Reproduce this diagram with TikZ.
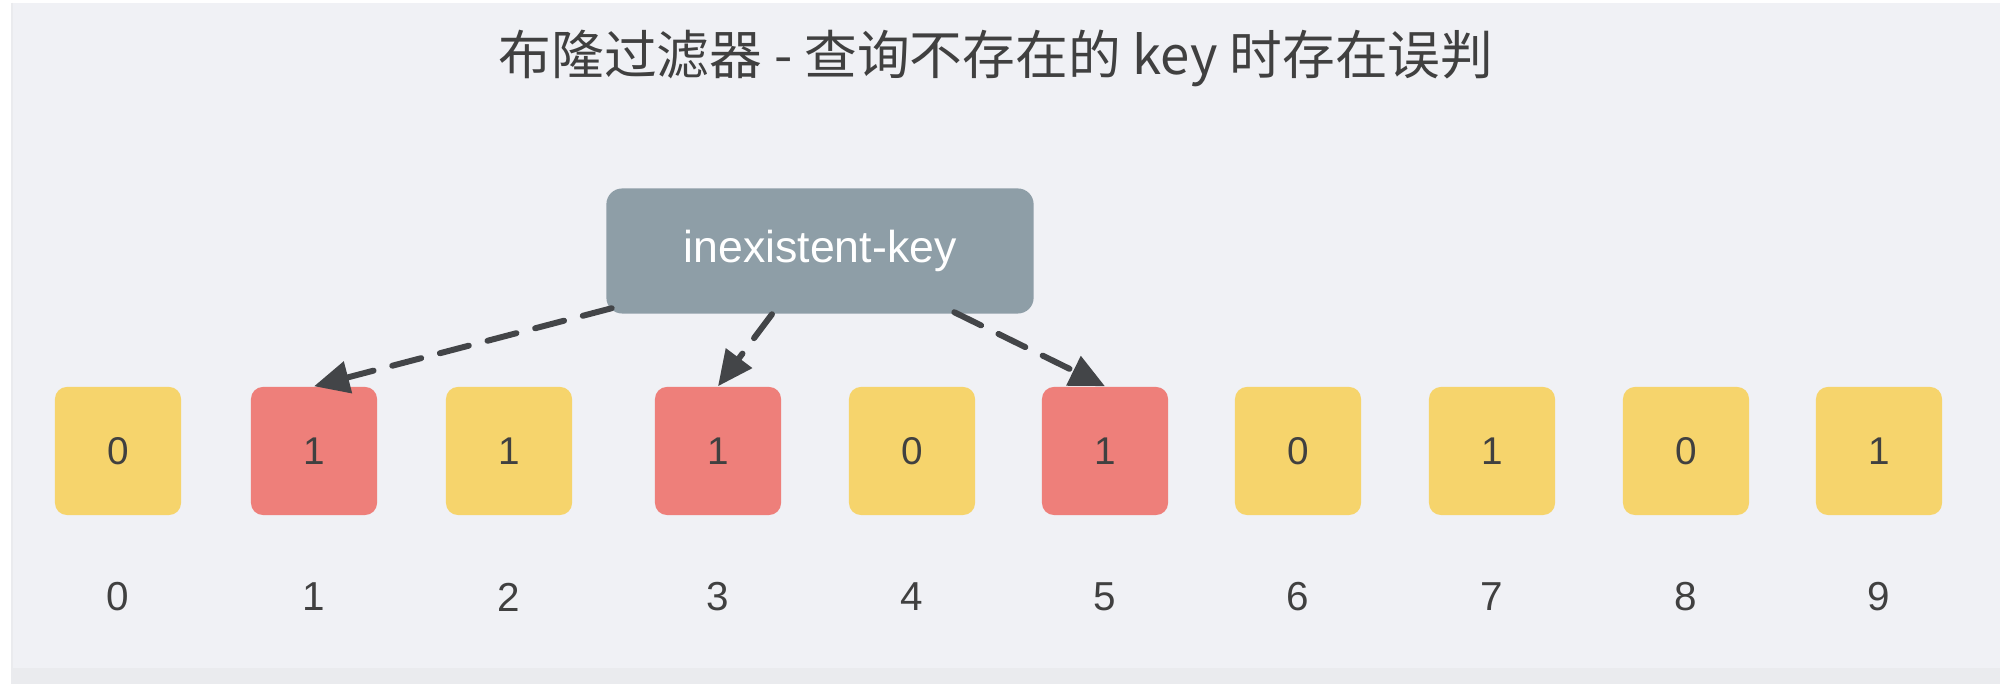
\documentclass[tikz,border=0pt]{standalone}
\usepackage{fontspec}
\setmainfont{Liberation Sans}
\newfontfamily\cjkfont{Noto Sans CJK SC}
\usetikzlibrary{arrows.meta}
\definecolor{panelbg}{HTML}{F0F1F5}
\definecolor{panelband}{HTML}{EAEBEE}
\definecolor{bityellow}{HTML}{F6D46C}
\definecolor{bitred}{HTML}{EE7F7A}
\definecolor{keygray}{HTML}{8E9EA7}
\definecolor{txtdark}{HTML}{404040}
\definecolor{arrowgray}{HTML}{434548}
\tikzset{
  bitbox/.style={rounded corners=3.4pt, minimum width=1.26cm, minimum height=1.28cm,
    inner sep=0pt, text=txtdark, font=\fontsize{11}{13}\selectfont},
  bity/.style={bitbox, fill=bityellow},
  bitr/.style={bitbox, fill=bitred},
  idxlabel/.style={text=txtdark, font=\fontsize{11.5}{13}\selectfont, inner sep=0pt},
  keybox/.style={fill=keygray, rounded corners=4.5pt, minimum width=4.27cm, minimum height=1.25cm,
    inner sep=0pt, text=white, font=\fontsize{12.7}{15}\selectfont},
  hasharrow/.style={draw=arrowgray, line width=1.7pt, dash pattern=on 8.5pt off 5.5pt, line cap=round,
    -{Triangle[length=10pt,width=9pt]}},
}
\begin{document}
\begin{tikzpicture}[x=0.01cm,y=-0.01cm]
\useasboundingbox (0,0) rectangle (2000,695);
\fill[white] (0,0) rectangle (2000,695);
\fill[panelbg] (12,3) rectangle (2000,684);
\fill[panelband] (12,665) rectangle (2000,684);
\fill[panelbg] (12,3) rectangle (2000,668);
\draw[panelband, line width=0.6pt] (12,3) -- (12,684);

\node[text=txtdark, font=\cjkfont\fontsize{15}{18}\selectfont, inner sep=0pt] (title) at (996,58)
  {布隆过滤器 - 查询不存在的 key 时存在误判};

\node[keybox] (key) at (820,251) {inexistent-key};

\node[bity] (b0) at (118,451) {0};
\node[bitr] (b1) at (314,451) {1};
\node[bity] (b2) at (509,451) {1};
\node[bitr] (b3) at (718,451) {1};
\node[bity] (b4) at (912,451) {0};
\node[bitr] (b5) at (1105,451) {1};
\node[bity] (b6) at (1298,451) {0};
\node[bity] (b7) at (1492,451) {1};
\node[bity] (b8) at (1686,451) {0};
\node[bity] (b9) at (1879,451) {1};

\foreach \i/\x in {0/118,1/314,2/509,3/718,4/912,5/1105,6/1298,7/1492,8/1686,9/1879}
  \node[idxlabel] (idx\i) at (\x,597) {\i};

\draw[hasharrow] ([xshift=0.06cm,yshift=0.06cm]key.south west) -- (b1.north);
\draw[hasharrow] ([xshift=-0.48cm]key.south) -- (b3.north);
\draw[hasharrow] ([xshift=-0.80cm,yshift=0.02cm]key.south east) -- (b5.north);
\end{tikzpicture}
\end{document}
